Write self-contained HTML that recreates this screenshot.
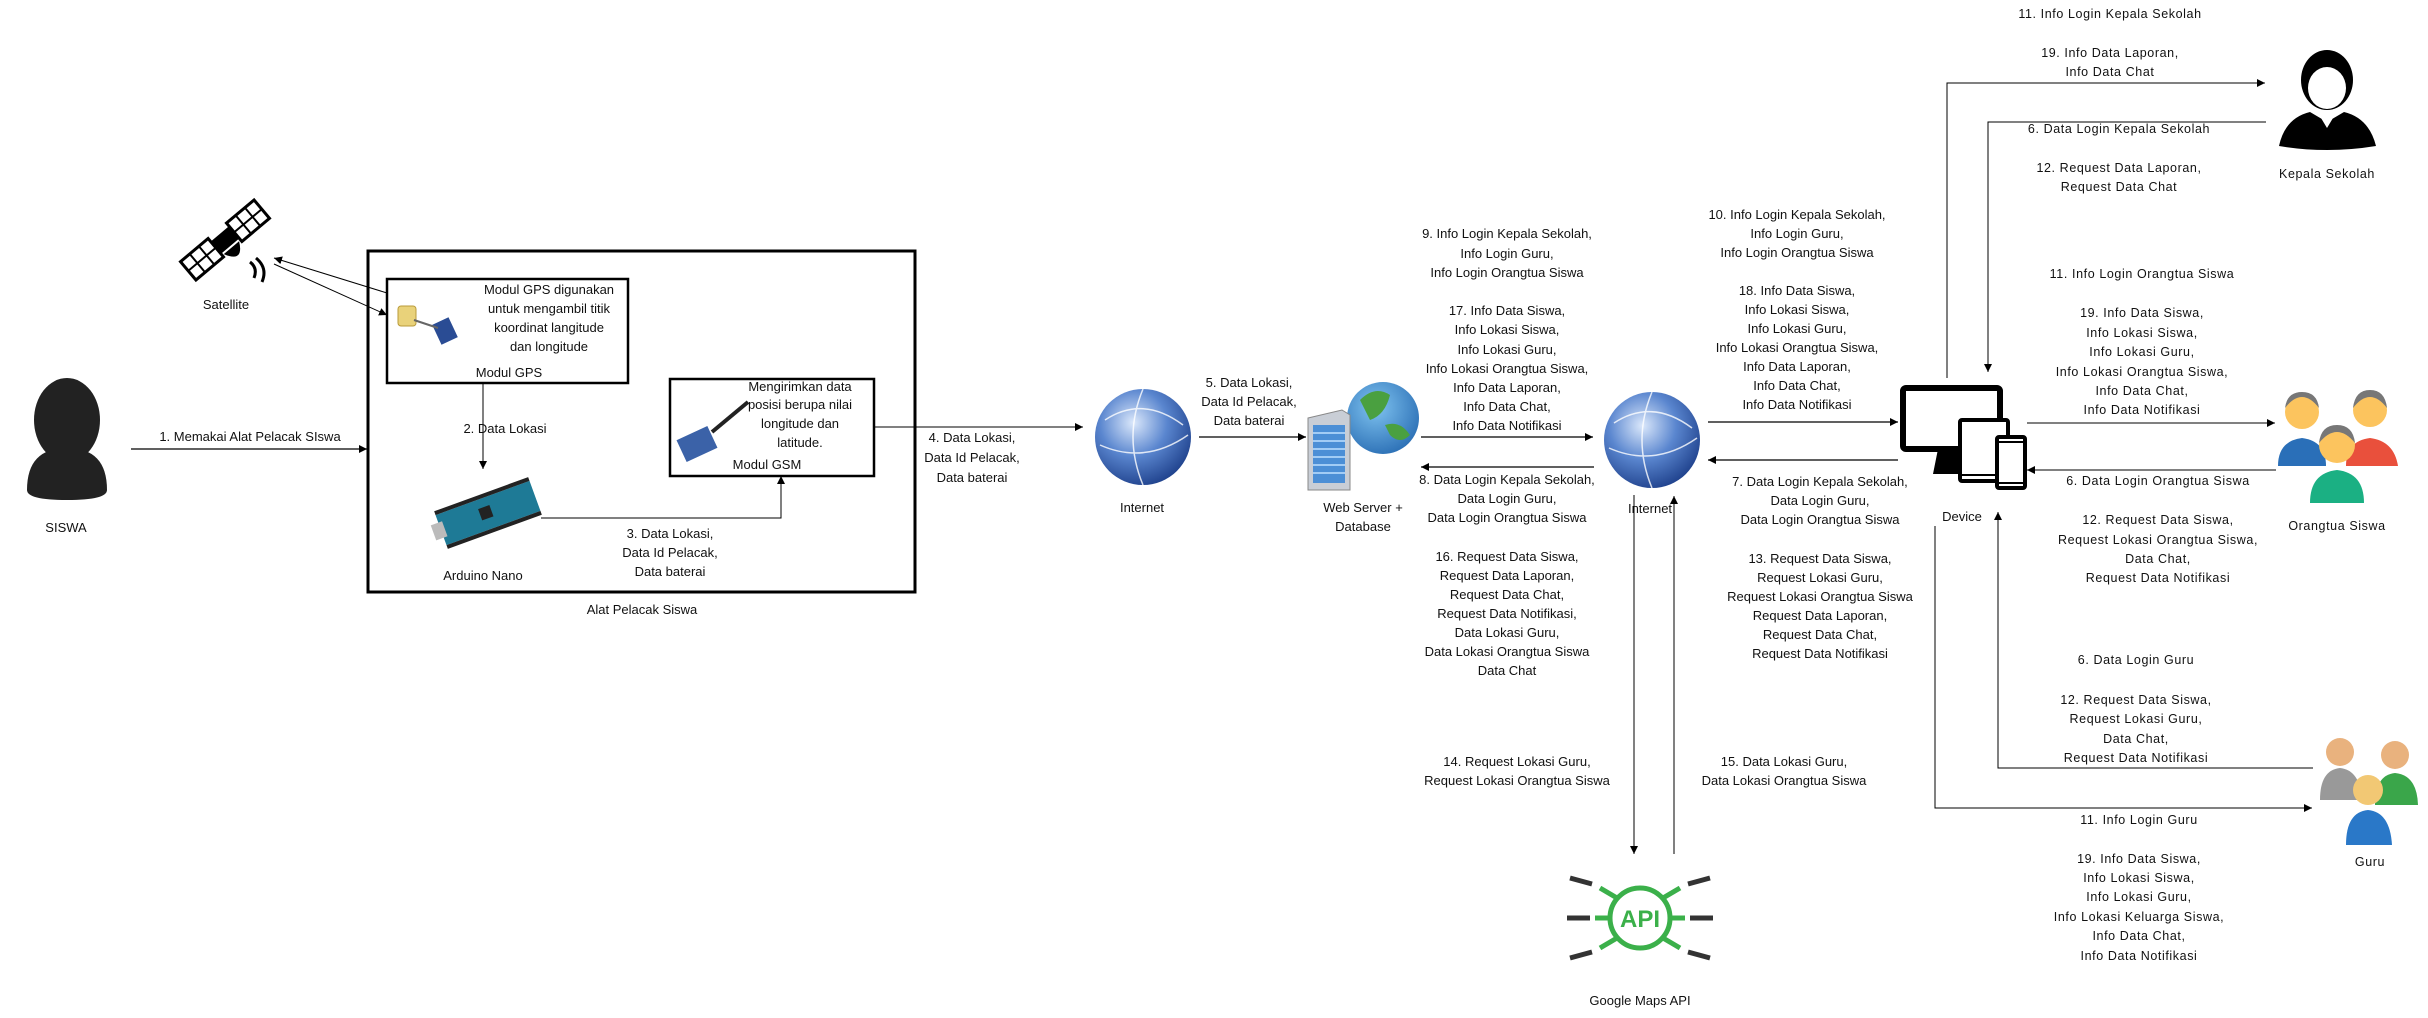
<!DOCTYPE html>
<html><head><meta charset="utf-8"><style>
html,body{margin:0;padding:0;background:#fff;}
svg{display:block;}
text{font-family:"Liberation Sans",sans-serif;font-size:13px;fill:#111;}
.r text, text.r{font-size:12.5px;letter-spacing:0.6px;}
</style></head><body>
<svg width="2428" height="1018" viewBox="0 0 2428 1018" xmlns="http://www.w3.org/2000/svg">
<defs>
<marker id="a" viewBox="0 0 10 10" refX="10" refY="5" markerWidth="8" markerHeight="8" orient="auto-start-reverse" markerUnits="userSpaceOnUse"><path d="M0,0L10,5L0,10z" fill="#000"/></marker>
<radialGradient id="g" cx="0.4" cy="0.35" r="0.7"><stop offset="0" stop-color="#dbe8fb"/><stop offset="0.5" stop-color="#5a86cf"/><stop offset="1" stop-color="#1d3f8a"/></radialGradient>
<radialGradient id="e" cx="0.4" cy="0.35" r="0.7"><stop offset="0" stop-color="#7fc3f0"/><stop offset="1" stop-color="#2b6fb5"/></radialGradient>
</defs>

<!-- SISWA -->
<ellipse cx="67" cy="420" rx="33" ry="42" fill="#222"/>
<path d="M27,490 Q27,448 67,448 Q107,448 107,490 Q107,500 67,500 Q27,500 27,490z" fill="#222"/>
<text x="66" y="532" text-anchor="middle">SISWA</text>
<line x1="131" y1="449" x2="367" y2="449" stroke="#000" stroke-width="1.3" marker-end="url(#a)"/>
<text x="250" y="441" text-anchor="middle">1. Memakai Alat Pelacak SIswa</text>

<!-- Satellite -->
<g transform="translate(225,240) rotate(-40)">
<rect x="-48" y="-12" width="36" height="24" fill="#fff" stroke="#000" stroke-width="3"/>
<path d="M-36,-12V12M-24,-12V12M-48,0H-12" stroke="#000" stroke-width="2"/>
<rect x="12" y="-12" width="36" height="24" fill="#fff" stroke="#000" stroke-width="3"/>
<path d="M24,-12V12M36,-12V12M12,0H48" stroke="#000" stroke-width="2"/>
<rect x="-12" y="-8" width="24" height="16" fill="#000"/>
<path d="M-10,10 Q0,30 10,10z" fill="#000"/>
</g>
<path d="M250,262 q8,6 4,16 M256,258 q12,10 6,24" stroke="#000" stroke-width="3" fill="none"/>
<text x="226" y="309" text-anchor="middle">Satellite</text>
<line x1="387" y1="293" x2="274" y2="258" stroke="#000" stroke-width="1" marker-end="url(#a)"/>
<line x1="274" y1="264" x2="387" y2="315" stroke="#000" stroke-width="1" marker-end="url(#a)"/>

<!-- big box -->
<rect x="368" y="251" width="547" height="341" fill="none" stroke="#000" stroke-width="3"/>
<text x="642" y="614" text-anchor="middle">Alat Pelacak Siswa</text>

<!-- GPS box -->
<rect x="387" y="279" width="241" height="104" fill="#fff" stroke="#000" stroke-width="2.5"/>
<rect x="398" y="306" width="18" height="20" rx="3" fill="#e9d27a" stroke="#b99b3a"/>
<rect x="436" y="320" width="18" height="22" fill="#2a4c94" transform="rotate(-25 445 331)"/>
<line x1="414" y1="320" x2="438" y2="328" stroke="#666" stroke-width="2"/>
<text x="549" y="294" text-anchor="middle">Modul GPS digunakan</text>
<text x="549" y="313" text-anchor="middle">untuk mengambil titik</text>
<text x="549" y="332" text-anchor="middle">koordinat langitude</text>
<text x="549" y="351" text-anchor="middle">dan longitude</text>
<text x="509" y="377" text-anchor="middle">Modul GPS</text>
<line x1="483" y1="383" x2="483" y2="469" stroke="#000" stroke-width="1" marker-end="url(#a)"/>
<text x="505" y="433" text-anchor="middle">2. Data Lokasi</text>

<!-- GSM box -->
<rect x="670" y="379" width="204" height="97" fill="#fff" stroke="#000" stroke-width="2.5"/>
<rect x="680" y="432" width="34" height="24" fill="#3b62a8" transform="rotate(-25 697 444)"/>
<line x1="712" y1="432" x2="748" y2="402" stroke="#222" stroke-width="4"/>
<text x="800" y="391" text-anchor="middle">Mengirimkan data</text>
<text x="800" y="409" text-anchor="middle">posisi berupa nilai</text>
<text x="800" y="428" text-anchor="middle">longitude dan</text>
<text x="800" y="447" text-anchor="middle">latitude.</text>
<text x="767" y="469" text-anchor="middle">Modul GSM</text>

<!-- Arduino -->
<g transform="rotate(-20 488 513)">
<rect x="438" y="497" width="100" height="32" fill="#1e7a96"/>
<rect x="438" y="493" width="100" height="4" fill="#222"/>
<rect x="438" y="529" width="100" height="4" fill="#222"/>
<rect x="430" y="505" width="12" height="16" fill="#bbb"/>
<rect x="480" y="506" width="12" height="12" fill="#222"/>
</g>
<text x="483" y="580" text-anchor="middle">Arduino Nano</text>
<polyline points="541,518 781,518 781,476" fill="none" stroke="#000" stroke-width="1" marker-end="url(#a)"/>
<text x="670" y="538" text-anchor="middle">3. Data Lokasi,</text>
<text x="670" y="557" text-anchor="middle">Data Id Pelacak,</text>
<text x="670" y="576" text-anchor="middle">Data baterai</text>

<line x1="874" y1="427" x2="1083" y2="427" stroke="#000" stroke-width="1" marker-end="url(#a)"/>
<text x="972" y="442" text-anchor="middle">4. Data Lokasi,</text>
<text x="972" y="462" text-anchor="middle">Data Id Pelacak,</text>
<text x="972" y="482" text-anchor="middle">Data baterai</text>

<!-- Internet 1 -->
<circle cx="1143" cy="437" r="48" fill="url(#g)"/>
<path d="M1105,420 q38,-25 78,5 M1100,445 q45,20 88,-10 M1143,389 q-20,48 0,96" stroke="#fff" stroke-width="1.5" fill="none" opacity="0.8"/>
<text x="1142" y="512" text-anchor="middle">Internet</text>

<line x1="1199" y1="437" x2="1306" y2="437" stroke="#000" stroke-width="1.3" marker-end="url(#a)"/>
<text x="1249" y="387" text-anchor="middle">5. Data Lokasi,</text>
<text x="1249" y="406" text-anchor="middle">Data Id Pelacak,</text>
<text x="1249" y="425" text-anchor="middle">Data baterai</text>

<!-- Server -->
<circle cx="1383" cy="418" r="36" fill="url(#e)"/>
<path d="M1360,400 q15,-15 30,-5 q-5,20 -20,25z M1385,425 q15,-5 25,10 q-10,10 -20,0z" fill="#4aa040"/>
<path d="M1308,418 L1342,410 L1350,415 L1350,490 L1308,490z" fill="#c9ced6" stroke="#888"/>
<rect x="1313" y="425" width="32" height="58" fill="#4c8fd6"/>
<path d="M1313,433H1345M1313,441H1345M1313,449H1345M1313,457H1345M1313,465H1345M1313,473H1345" stroke="#bfe0ff" stroke-width="1.5"/>
<text x="1363" y="512" text-anchor="middle">Web Server +</text>
<text x="1363" y="531" text-anchor="middle">Database</text>

<line x1="1421" y1="437" x2="1593" y2="437" stroke="#000" stroke-width="1.3" marker-end="url(#a)"/>
<line x1="1594" y1="467" x2="1421" y2="467" stroke="#000" stroke-width="1.3" marker-end="url(#a)"/>
<g text-anchor="middle">
<text x="1507" y="238">9. Info Login Kepala Sekolah,</text>
<text x="1507" y="258">Info Login Guru,</text>
<text x="1507" y="277">Info Login Orangtua Siswa</text>
<text x="1507" y="315">17. Info Data Siswa,</text>
<text x="1507" y="334">Info Lokasi Siswa,</text>
<text x="1507" y="354">Info Lokasi Guru,</text>
<text x="1507" y="373">Info Lokasi Orangtua Siswa,</text>
<text x="1507" y="392">Info Data Laporan,</text>
<text x="1507" y="411">Info Data Chat,</text>
<text x="1507" y="430">Info Data Notifikasi</text>
<text x="1507" y="484">8. Data Login Kepala Sekolah,</text>
<text x="1507" y="503">Data Login Guru,</text>
<text x="1507" y="522">Data Login Orangtua Siswa</text>
<text x="1507" y="561">16. Request Data Siswa,</text>
<text x="1507" y="580">Request Data Laporan,</text>
<text x="1507" y="599">Request Data Chat,</text>
<text x="1507" y="618">Request Data Notifikasi,</text>
<text x="1507" y="637">Data Lokasi Guru,</text>
<text x="1507" y="656">Data Lokasi Orangtua Siswa</text>
<text x="1507" y="675">Data Chat</text>
</g>

<!-- Internet 2 -->
<circle cx="1652" cy="440" r="48" fill="url(#g)"/>
<path d="M1614,423 q38,-25 78,5 M1609,448 q45,20 88,-10 M1652,392 q-20,48 0,96" stroke="#fff" stroke-width="1.5" fill="none" opacity="0.8"/>
<text x="1650" y="513" text-anchor="middle">Internet</text>
<line x1="1634" y1="495" x2="1634" y2="854" stroke="#000" stroke-width="1" marker-end="url(#a)"/>
<line x1="1674" y1="854" x2="1674" y2="496" stroke="#000" stroke-width="1" marker-end="url(#a)"/>
<g text-anchor="middle">
<text x="1517" y="766">14. Request Lokasi Guru,</text>
<text x="1517" y="785">Request Lokasi Orangtua Siswa</text>
<text x="1784" y="766">15. Data Lokasi Guru,</text>
<text x="1784" y="785">Data Lokasi Orangtua Siswa</text>
</g>

<!-- API -->
<g stroke="#3bb04a" stroke-width="5" fill="none">
<circle cx="1640" cy="918" r="30"/>
<line x1="1610" y1="918" x2="1595" y2="918"/><line x1="1670" y1="918" x2="1685" y2="918"/>
<line x1="1617" y1="898" x2="1600" y2="888"/><line x1="1663" y1="898" x2="1680" y2="888"/>
<line x1="1617" y1="938" x2="1600" y2="948"/><line x1="1663" y1="938" x2="1680" y2="948"/>
</g>
<g stroke="#333" stroke-width="5">
<line x1="1590" y1="918" x2="1567" y2="918"/><line x1="1690" y1="918" x2="1713" y2="918"/>
<line x1="1592" y1="884" x2="1570" y2="878"/><line x1="1688" y1="884" x2="1710" y2="878"/>
<line x1="1592" y1="952" x2="1570" y2="958"/><line x1="1688" y1="952" x2="1710" y2="958"/>
</g>
<text x="1640" y="927" text-anchor="middle" style="font-size:24px;font-weight:bold;fill:#3bb04a">API</text>
<text x="1640" y="1005" text-anchor="middle">Google Maps API</text>

<!-- internet2 <-> device -->
<line x1="1708" y1="422" x2="1898" y2="422" stroke="#000" stroke-width="1.3" marker-end="url(#a)"/>
<line x1="1898" y1="460" x2="1708" y2="460" stroke="#000" stroke-width="1.3" marker-end="url(#a)"/>
<g text-anchor="middle">
<text x="1797" y="219">10. Info Login Kepala Sekolah,</text>
<text x="1797" y="238">Info Login Guru,</text>
<text x="1797" y="257">Info Login Orangtua Siswa</text>
<text x="1797" y="295">18. Info Data Siswa,</text>
<text x="1797" y="314">Info Lokasi Siswa,</text>
<text x="1797" y="333">Info Lokasi Guru,</text>
<text x="1797" y="352">Info Lokasi Orangtua Siswa,</text>
<text x="1797" y="371">Info Data Laporan,</text>
<text x="1797" y="390">Info Data Chat,</text>
<text x="1797" y="409">Info Data Notifikasi</text>
<text x="1820" y="486">7. Data Login Kepala Sekolah,</text>
<text x="1820" y="505">Data Login Guru,</text>
<text x="1820" y="524">Data Login Orangtua Siswa</text>
<text x="1820" y="563">13. Request Data Siswa,</text>
<text x="1820" y="582">Request Lokasi Guru,</text>
<text x="1820" y="601">Request Lokasi Orangtua Siswa</text>
<text x="1820" y="620">Request Data Laporan,</text>
<text x="1820" y="639">Request Data Chat,</text>
<text x="1820" y="658">Request Data Notifikasi</text>
</g>

<!-- Device -->
<rect x="1903" y="388" width="97" height="61" rx="3" fill="#fff" stroke="#000" stroke-width="6"/>
<path d="M1938,449 L1960,449 L1960,474 L1933,474z" fill="#000"/>
<rect x="1960" y="420" width="48" height="61" rx="2" fill="#fff" stroke="#000" stroke-width="4"/>
<line x1="1960" y1="475" x2="2008" y2="475" stroke="#000" stroke-width="2"/>
<rect x="1997" y="437" width="28" height="51" rx="2" fill="#fff" stroke="#000" stroke-width="4"/>
<line x1="1997" y1="442" x2="2025" y2="442" stroke="#000" stroke-width="2"/>
<line x1="1997" y1="483" x2="2025" y2="483" stroke="#000" stroke-width="2"/>
<text x="1962" y="521" text-anchor="middle">Device</text>

<!-- Kepala Sekolah connections -->
<polyline points="1947,378 1947,83 2265,83" fill="none" stroke="#000" stroke-width="1" marker-end="url(#a)"/>
<polyline points="2266,122 1988,122 1988,372" fill="none" stroke="#000" stroke-width="1" marker-end="url(#a)"/>
<!-- Orangtua -->
<line x1="2027" y1="423" x2="2275" y2="423" stroke="#000" stroke-width="1" marker-end="url(#a)"/>
<line x1="2276" y1="470" x2="2027" y2="470" stroke="#000" stroke-width="1" marker-end="url(#a)"/>
<!-- Guru -->
<polyline points="2313,768 1998,768 1998,512" fill="none" stroke="#000" stroke-width="1" marker-end="url(#a)"/>
<polyline points="1935,526 1935,808 2312,808" fill="none" stroke="#000" stroke-width="1" marker-end="url(#a)"/>

<g class="r" text-anchor="middle">
<text x="2110" y="18">11. Info Login Kepala Sekolah</text>
<text x="2110" y="57">19. Info Data Laporan,</text>
<text x="2110" y="76">Info Data Chat</text>
<text x="2119" y="133">6. Data Login Kepala Sekolah</text>
<text x="2119" y="172">12. Request Data Laporan,</text>
<text x="2119" y="191">Request Data Chat</text>
<text x="2142" y="278">11. Info Login Orangtua Siswa</text>
<text x="2142" y="317">19. Info Data Siswa,</text>
<text x="2142" y="337">Info Lokasi Siswa,</text>
<text x="2142" y="356">Info Lokasi Guru,</text>
<text x="2142" y="376">Info Lokasi Orangtua Siswa,</text>
<text x="2142" y="395">Info Data Chat,</text>
<text x="2142" y="414">Info Data Notifikasi</text>
<text x="2158" y="485">6. Data Login Orangtua Siswa</text>
<text x="2158" y="524">12. Request Data Siswa,</text>
<text x="2158" y="544">Request Lokasi Orangtua Siswa,</text>
<text x="2158" y="563">Data Chat,</text>
<text x="2158" y="582">Request Data Notifikasi</text>
<text x="2136" y="664">6. Data Login Guru</text>
<text x="2136" y="704">12. Request Data Siswa,</text>
<text x="2136" y="723">Request Lokasi Guru,</text>
<text x="2136" y="743">Data Chat,</text>
<text x="2136" y="762">Request Data Notifikasi</text>
<text x="2139" y="824">11. Info Login Guru</text>
<text x="2139" y="863">19. Info Data Siswa,</text>
<text x="2139" y="882">Info Lokasi Siswa,</text>
<text x="2139" y="901">Info Lokasi Guru,</text>
<text x="2139" y="921">Info Lokasi Keluarga Siswa,</text>
<text x="2139" y="940">Info Data Chat,</text>
<text x="2139" y="960">Info Data Notifikasi</text>
<text x="2327" y="178">Kepala Sekolah</text>
<text x="2337" y="530">Orangtua Siswa</text>
<text x="2370" y="866">Guru</text>
</g>

<!-- Kepala Sekolah icon -->
<ellipse cx="2327" cy="80" rx="26" ry="30" fill="#000"/>
<ellipse cx="2327" cy="88" rx="19" ry="21" fill="#fff"/>
<path d="M2279,146 Q2285,118 2310,112 L2327,122 L2344,112 Q2369,118 2376,146 Q2327,154 2279,146z" fill="#000"/>
<path d="M2321,118 L2333,118 L2327,128z" fill="#fff"/>

<!-- Orangtua icon -->
<circle cx="2302" cy="412" r="17" fill="#fcc45e"/><path d="M2285,408 q17,-22 34,0 q-2,-16 -17,-16 q-15,0 -17,16z" fill="#777"/>
<path d="M2278,466 q0,-25 24,-28 q24,3 24,28z" fill="#2a6fb8"/>
<circle cx="2370" cy="410" r="17" fill="#fcc45e"/><path d="M2353,408 q17,-22 34,0 q-2,-18 -17,-18 q-15,0 -17,18z" fill="#777"/>
<path d="M2346,466 q0,-25 24,-28 q24,3 28,28z" fill="#e9503c"/>
<circle cx="2337" cy="445" r="18" fill="#fcc45e"/><path d="M2319,443 q18,-22 36,0 q-2,-18 -18,-18 q-16,0 -18,18z" fill="#777"/>
<path d="M2310,503 q0,-30 27,-33 q27,3 27,33z" fill="#1bb083"/>

<!-- Guru icon -->
<circle cx="2340" cy="752" r="14" fill="#e9b27e"/><path d="M2320,800 q0,-30 20,-32 q20,2 22,32z" fill="#999"/>
<circle cx="2395" cy="755" r="14" fill="#e9b27e"/><path d="M2375,805 q0,-30 20,-32 q22,2 23,32z" fill="#3aa64a"/>
<circle cx="2368" cy="790" r="15" fill="#f2c874"/><path d="M2346,845 q0,-33 22,-35 q22,2 24,35z" fill="#2a78c8"/>
</svg>
</body></html>
